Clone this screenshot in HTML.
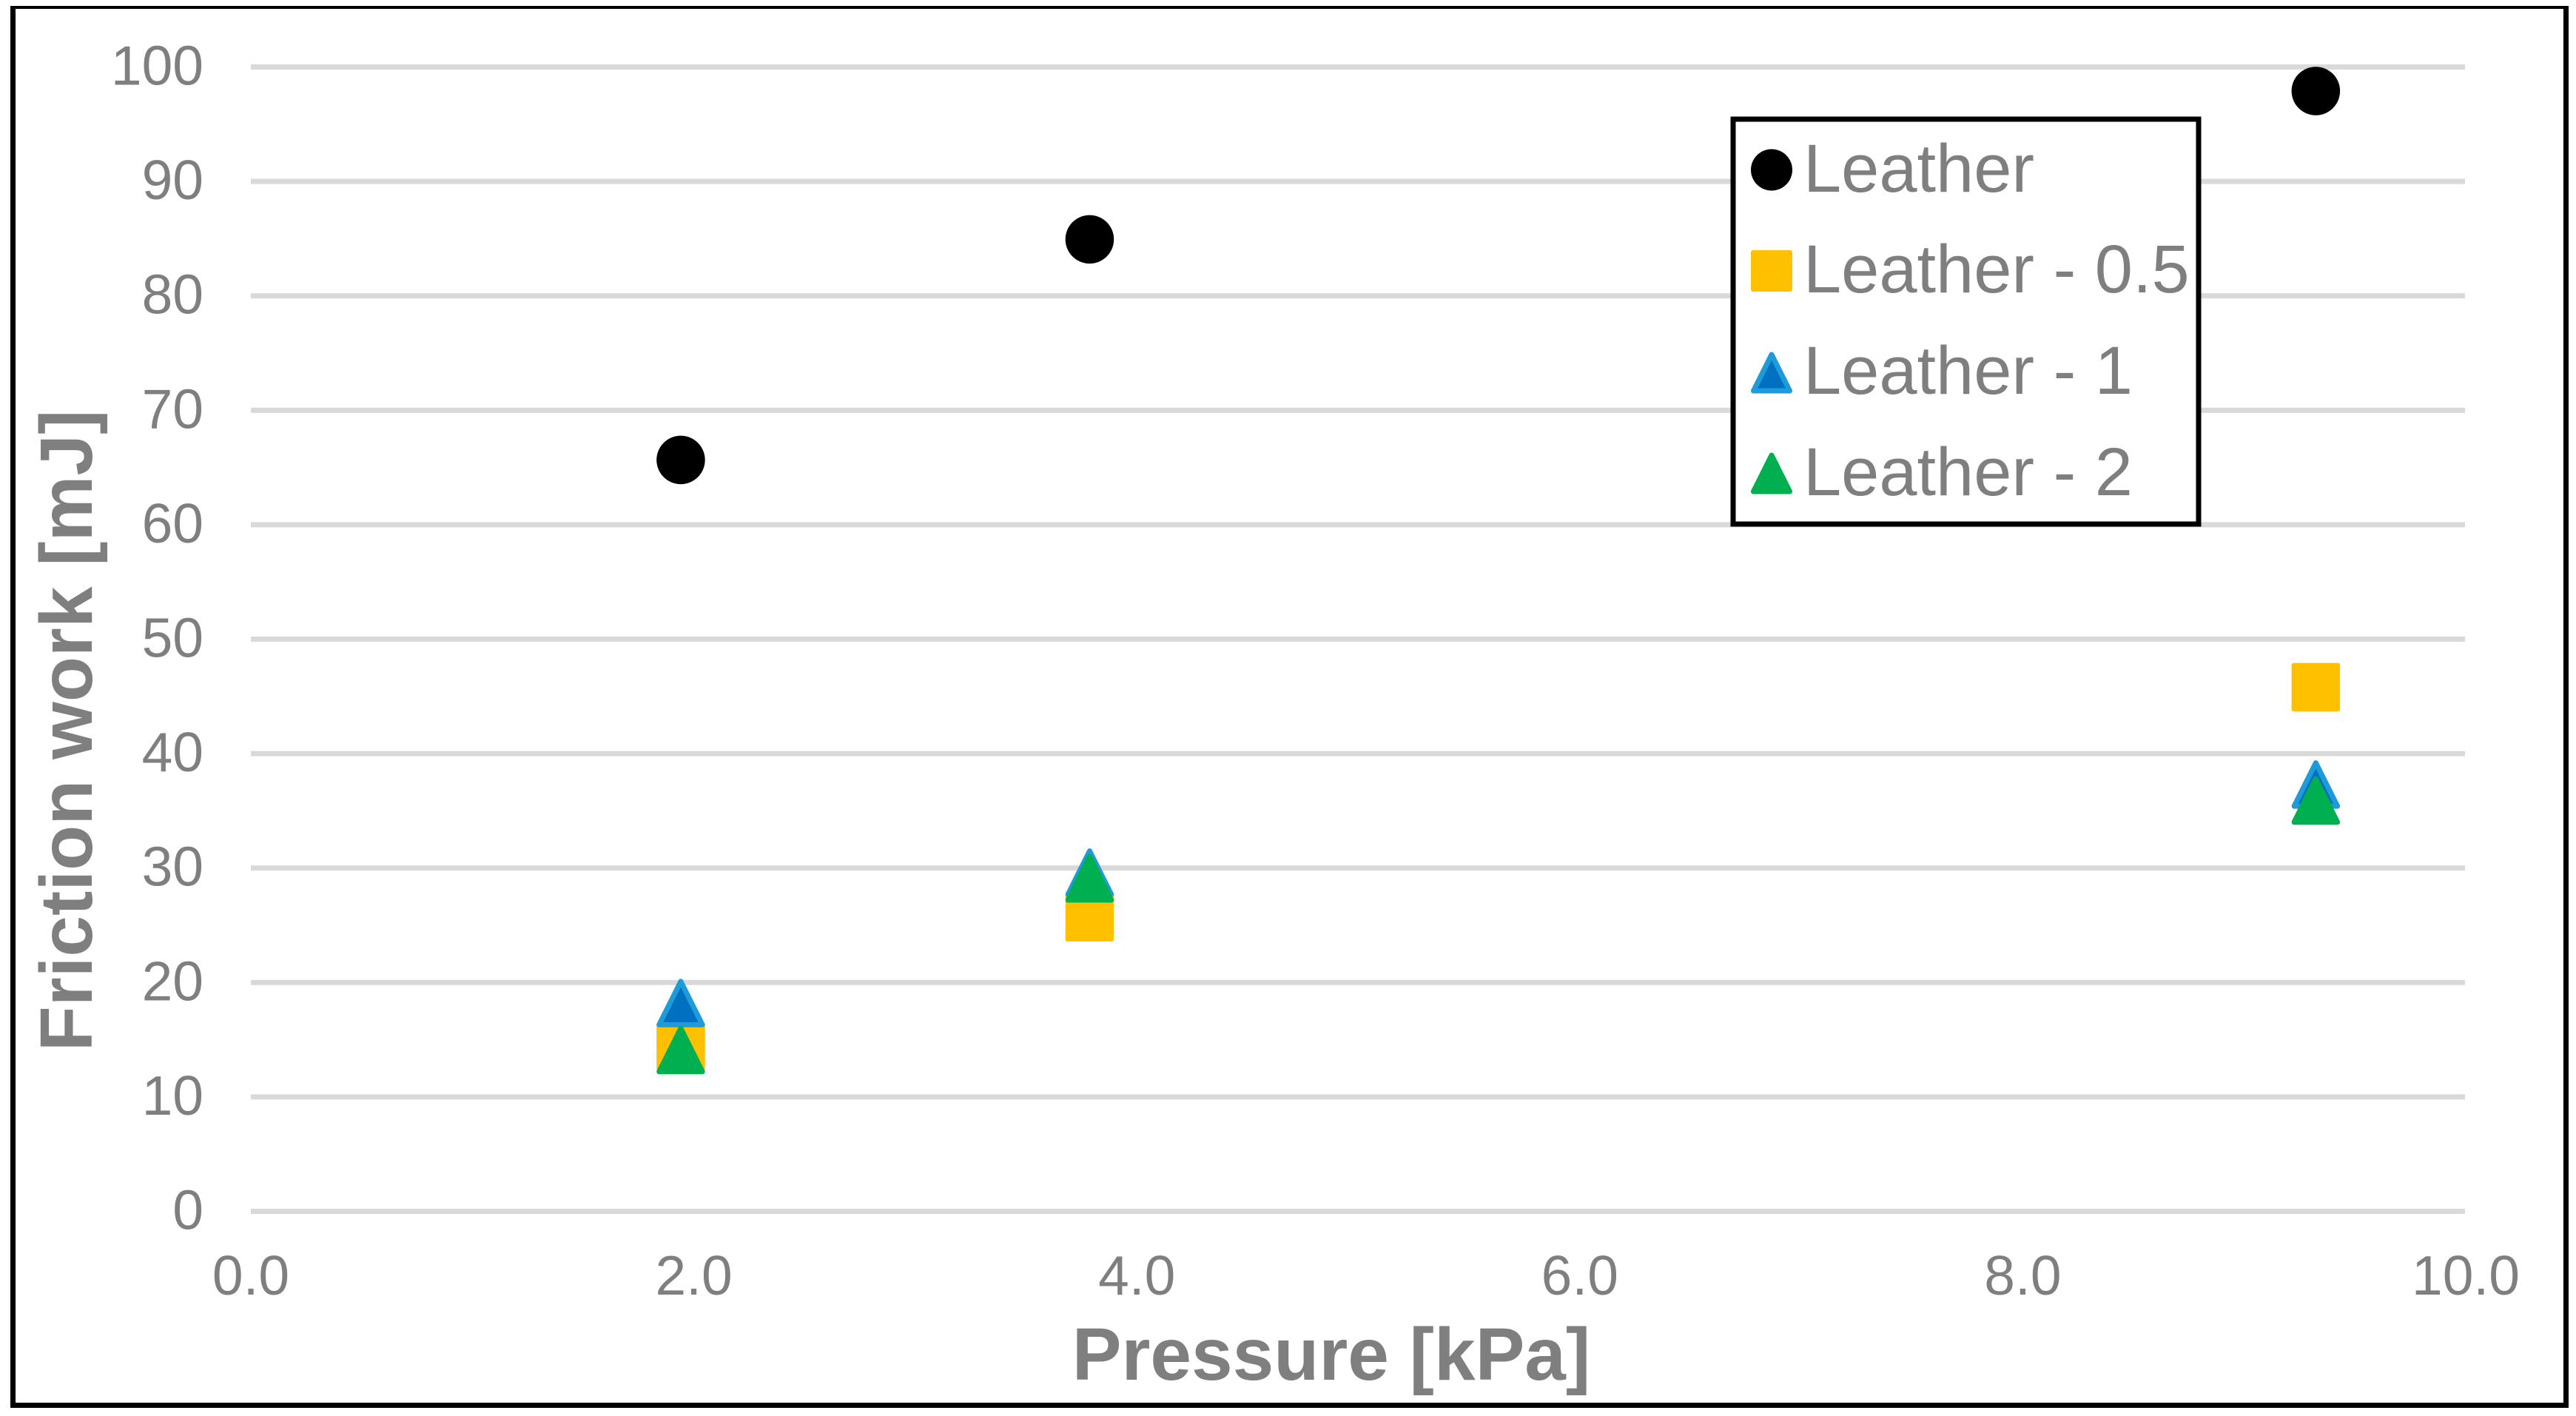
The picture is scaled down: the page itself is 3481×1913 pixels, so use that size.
<!DOCTYPE html>
<html lang="en">
<head>
<meta charset="utf-8">
<title>Friction work vs pressure</title>
<style>
html,body{margin:0;padding:0;background:#fff;width:3481px;height:1913px;overflow:hidden}
svg{display:block}
text{font-family:"Liberation Sans",Arial,sans-serif;fill:#7f7f7f}
</style>
</head>
<body>
<svg id="chart" xmlns="http://www.w3.org/2000/svg" width="3481" height="1913" viewBox="0 0 3481 1913">
  <rect x="0" y="0" width="3481" height="1913" fill="#fff"/>
  <g id="grid"></g>
  <g id="yticks" font-size="75" text-anchor="end"></g>
  <g id="xticks" font-size="75" text-anchor="middle"></g>
  <text x="1799" y="1864" font-size="100" font-weight="bold" text-anchor="middle">Pressure [kPa]</text>
  <text transform="translate(124,987) rotate(-90)" font-size="100" font-weight="bold" text-anchor="middle">Friction work [mJ]</text>
  <g id="marks"></g>
  <g id="legend">
    <rect x="2342" y="161" width="629" height="547" fill="#fff" stroke="#000" stroke-width="7"/>
  </g>
  <g fill="#000">
    <rect x="14" y="8" width="3457" height="4"/>
    <rect x="14" y="8" width="7" height="1894"/>
    <rect x="3464" y="8" width="7" height="1894"/>
    <rect x="14" y="1895" width="3457" height="7"/>
  </g>
</svg>
<script>
const pressure = [1.941, 3.787, 9.323];
const leather = [65.66, 84.94, 97.9];
const leather05 = [14.4, 25.7, 45.8];
const leather1 = [18.2, 29.6, 37.3];
const leather2 = [14.1, 29.1, 35.9];
const seriesNames = ['Leather', 'Leather - 0.5', 'Leather - 1', 'Leather - 2'];
const yTickValues = [0, 10, 20, 30, 40, 50, 60, 70, 80, 90, 100];
const xTickValues = [0, 2, 4, 6, 8, 10];

const NS = 'http://www.w3.org/2000/svg';
const xScale = v => 339 + (v / 10) * 2993;
const yScale = v => 1636.5 - (v / 100) * 1546;
function make(tag, attrs, parent) {
  const el = document.createElementNS(NS, tag);
  for (const k in attrs) el.setAttribute(k, attrs[k]);
  parent.appendChild(el);
  return el;
}
function drawMarker(kind, cx, cy, size, parent) {
  let el;
  const h = size / 2;
  if (kind === 'circle') {
    el = make('circle', { cx: cx, cy: cy, r: h, fill: '#000' }, parent);
  } else if (kind === 'square') {
    el = make('rect', { x: cx - h, y: cy - h, width: size, height: size, rx: 3, fill: '#ffc000' }, parent);
  } else {
    const sw = 7;
    const a = h - sw / 2;
    const pts = cx + ',' + (cy - a) + ' ' + (cx + a) + ',' + (cy + a) + ' ' + (cx - a) + ',' + (cy + a);
    const fill = kind === 'tri-blue' ? '#0070c0' : '#00b050';
    const stroke = kind === 'tri-blue' ? '#1f9bd9' : '#00b050';
    el = make('polygon', { points: pts, fill: fill, stroke: stroke, 'stroke-width': sw, 'stroke-linejoin': 'round' }, parent);
  }
  return el;
}

const gridG = document.getElementById('grid');
const yG = document.getElementById('yticks');
const xG = document.getElementById('xticks');
yTickValues.forEach(v => {
  const line = make('rect', { x: 339, y: yScale(v) - 3.5, width: 2992, height: 7, fill: '#d9d9d9' }, gridG);
  
  
  const t = make('text', { x: 275, y: yScale(v) + 24 }, yG);
  t.textContent = String(v);
  
  
});
xTickValues.forEach(v => {
  const t = make('text', { x: xScale(v), y: 1749 }, xG);
  t.textContent = v.toFixed(1);
  
  
});

const marksG = document.getElementById('marks');
const markerKinds = ['circle', 'square', 'tri-blue', 'tri-green'];
[leather, leather05, leather1, leather2].forEach((vals, s) => {
  const g = make('g', {}, marksG);
  
  
  vals.forEach((v, i) => {
    const m = drawMarker(markerKinds[s], xScale(pressure[i]), yScale(v), 65.5, g);
    
    
  });
});

const legendG = document.getElementById('legend');
const legendMarkerY = [229.5, 366, 503.5, 639.5];
const legendTextY = [259, 395, 532, 669];
seriesNames.forEach((name, i) => {
  const m = drawMarker(markerKinds[i], 2394, legendMarkerY[i], 56, legendG);
  
  
  const t = make('text', { x: 2437, y: legendTextY[i], 'font-size': 92 }, legendG);
  t.textContent = name;
  
  
});
</script>
</body>
</html>
